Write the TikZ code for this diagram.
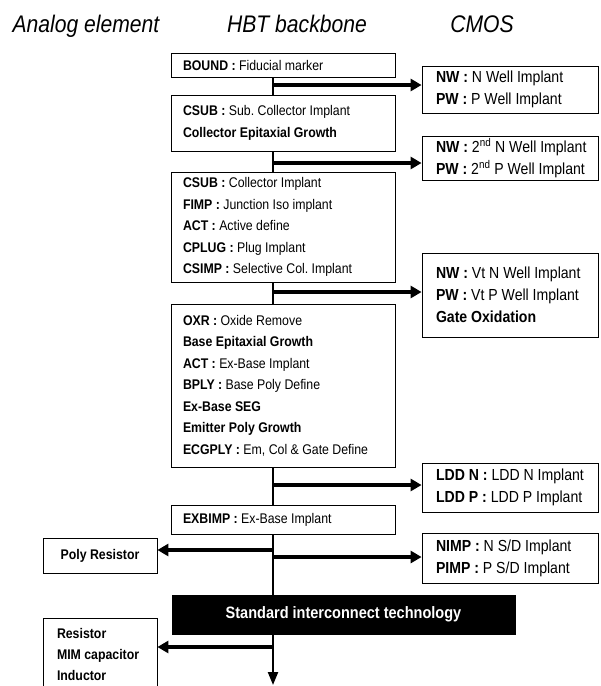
\documentclass[tikz,border=0pt]{standalone}
\usepackage{fontspec}
\setmainfont{Liberation Sans}[FakeStretch=0.88]
\usetikzlibrary{arrows.meta}
\newcommand{\rind}{\hspace*{14pt}}
\begin{document}
\frenchspacing
\begin{tikzpicture}[x=1pt,y=-1pt,
  bb/.style={draw, line width=0.8pt, text width=200pt, inner xsep=12pt, inner ysep=0pt, align=flush left, font=\fontsize{14}{21.5}\selectfont},
  rb/.style={draw, line width=0.8pt, text width=176pt, inner xsep=0pt, inner ysep=0pt, align=flush left, font=\fontsize{16}{22}\selectfont},
  lb/.style={draw, line width=0.8pt, text width=86pt, inner xsep=14pt, inner ysep=0pt, align=flush left, font=\bfseries\fontsize{14}{21}\selectfont},
  title/.style={anchor=base, font=\itshape\fontsize{24}{28}\selectfont},
  spine/.style={line width=2.2pt},
  branch/.style={line width=3.5pt, -{Triangle[length=11pt,width=12pt]}},
]
\useasboundingbox (0,0) rectangle (601,686);

% titles
\node[title] (t1) at (86,32) {Analog element};
\node[title] (t2) at (297,32) {HBT backbone};
\node[title] (t3) at (482,32) {CMOS};

% backbone boxes
\node[bb, minimum height=24pt] (bound) at (283,65) {\textbf{BOUND :} Fiducial marker};
\node[bb, minimum height=56pt] (csub1) at (283,123) {\textbf{CSUB :} Sub. Collector Implant\\ \textbf{Collector Epitaxial Growth}};
\node[bb, minimum height=110pt] (csub2) at (283,227) {\textbf{CSUB :} Collector Implant\\ \textbf{FIMP :} Junction Iso implant\\ \textbf{ACT :} Active define\\ \textbf{CPLUG :} Plug Implant\\ \textbf{CSIMP :} Selective Col. Implant};
\node[bb, minimum height=163pt] (oxr) at (283,385.5) {\textbf{OXR :} Oxide Remove\\ \textbf{Base Epitaxial Growth}\\ \textbf{ACT :} Ex-Base Implant\\ \textbf{BPLY :} Base Poly Define\\ \textbf{Ex-Base SEG}\\ \textbf{Emitter Poly Growth}\\ \textbf{ECGPLY :} Em, Col \& Gate Define};
\node[bb, minimum height=29pt] (exb) at (283,519.5) {\textbf{EXBIMP :} Ex-Base Implant};
\node[draw, fill=black, text=white, minimum width=343pt, minimum height=39pt, inner sep=0pt, font=\bfseries\fontsize{16.5}{20}\selectfont] (std) at (343.5,614.5) {Standard interconnect technology};

% CMOS boxes
\node[rb, minimum height=47pt] (nw1) at (510,89.5) {\rind\textbf{NW :} N Well Implant\\ \rind\textbf{PW :} P Well Implant};
\node[rb, minimum height=44pt] (nw2) at (510,158) {\rind\textbf{NW :} 2\textsuperscript{nd} N Well Implant\\ \rind\textbf{PW :} 2\textsuperscript{nd} P Well Implant};
\node[rb, minimum height=84pt] (nw3) at (510,295) {\rind\textbf{NW :} Vt N Well Implant\\ \rind\textbf{PW :} Vt P Well Implant\\ \rind\textbf{Gate Oxidation}};
\node[rb, minimum height=49pt] (ldd) at (510,487.5) {\rind\textbf{LDD N :} LDD N Implant\\ \rind\textbf{LDD P :} LDD P Implant};
\node[rb, minimum height=50pt] (nimp) at (510,558) {\rind\textbf{NIMP :} N S/D Implant\\ \rind\textbf{PIMP :} P S/D Implant};

% analog boxes
\node[draw, line width=0.8pt, minimum width=114pt, minimum height=35pt, inner sep=0pt, font=\bfseries\fontsize{14}{21}\selectfont] (poly) at (100,555.5) {Poly Resistor};
\node[lb, minimum height=72pt] (res) at (100,654) {Resistor\\ MIM capacitor\\ Inductor};

% spine
\coordinate (bx) at (273,0);
\coordinate (j1) at (273,85);
\coordinate (j2) at (273,163);
\coordinate (j3) at (273,292);
\coordinate (j4) at (273,485);
\coordinate (j5) at (273,550);
\coordinate (j6) at (273,557);
\coordinate (j7) at (273,647);
\coordinate (endc) at (273,685);

\draw[spine] (bound.south -| bx) -- (csub1.north -| bx);
\draw[spine] (csub1.south -| bx) -- (csub2.north -| bx);
\draw[spine] (csub2.south -| bx) -- (oxr.north -| bx);
\draw[spine] (oxr.south -| bx) -- (exb.north -| bx);
\draw[spine] (exb.south -| bx) -- (std.north -| bx);
\draw[spine, -{Triangle[length=13pt,width=10pt]}] (std.south -| bx) -- (endc);

\draw[branch] (j1) -- (j1 -| nw1.west);
\draw[branch] (j2) -- (j2 -| nw2.west);
\draw[branch] (j3) -- (j3 -| nw3.west);
\draw[branch] (j4) -- (j4 -| ldd.west);
\draw[branch] (j5) -- (j5 -| poly.east);
\draw[branch] (j6) -- (j6 -| nimp.west);
\draw[branch] (j7) -- (j7 -| res.east);
\end{tikzpicture}
\end{document}
